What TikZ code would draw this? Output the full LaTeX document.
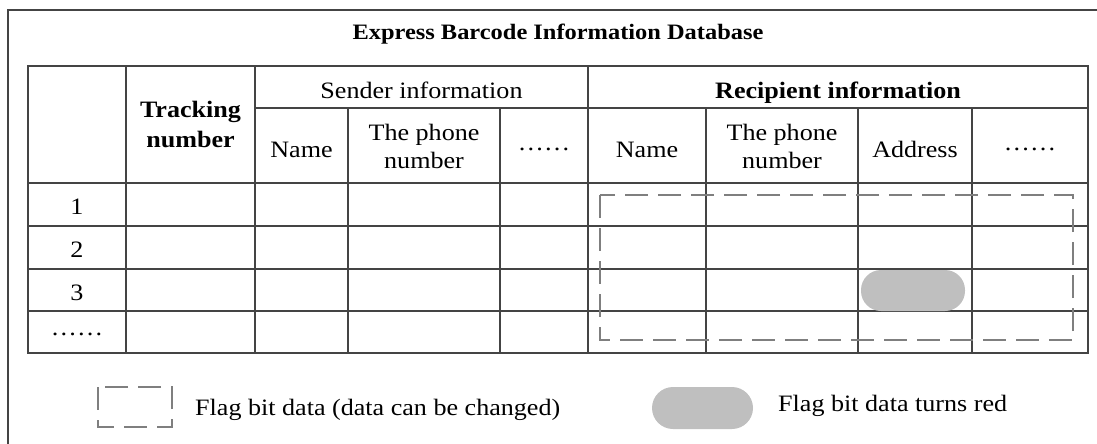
\documentclass[tikz,border=0pt]{standalone}
\usepackage{fontspec}
\setmainfont{Liberation Serif}
\usepackage{graphicx}
\newcommand{\sx}[1]{\scalebox{1.11}[1]{#1}}
\definecolor{gridc}{HTML}{444444}
\definecolor{dashc}{HTML}{7F7F7F}
\definecolor{pillc}{HTML}{BFBFBF}
\begin{document}
\begin{tikzpicture}[x=1pt,y=-1pt,
  frame/.style={draw=gridc, line width=2pt},
  grid/.style={draw=gridc, line width=2pt},
  flag/.style={draw=dashc, line width=2.8pt, dash pattern=on 23pt off 10pt},
  pill/.style={fill=pillc, draw=none, rounded corners=20pt},
  txt/.style={inner sep=0pt, align=center, font=\fontsize{23.5}{28}\selectfont},
  btxt/.style={inner sep=0pt, align=center, font=\fontsize{23.5}{30}\selectfont\bfseries},
  ttxt/.style={inner sep=0pt, align=center, font=\fontsize{22}{26}\selectfont\bfseries}]
\useasboundingbox (0,0) rectangle (1097,444);
% outer frame (cut by the picture edges)
\draw[frame] (8,460) -- (8,10) -- (1110,10);
% table
\draw[grid] (28,66) rectangle (1088,353);
\foreach \y in {183,226,269,311} \draw[grid] (28,\y) -- (1088,\y);
\draw[grid] (255,108) -- (1088,108);
\foreach \x in {126,255,588} \draw[grid] (\x,66) -- (\x,353);
\foreach \x in {348,500,706,858,972} \draw[grid] (\x,108) -- (\x,353);
% marked cell and flagged region
\fill[pill] (861,270) rectangle (965,311);
\draw[flag] (600,195) rectangle (1073,340);
% texts
\node[ttxt, anchor=base] (title) at (558,40) {\sx{Express Barcode Information Database}};
\node[btxt] (track) at (190.5,124.5) {\sx{Tracking}\\\sx{number}};
\node[txt, anchor=base] (sender) at (421.5,98) {\sx{Sender information}};
\node[btxt, anchor=base] (recip) at (838,98) {\sx{Recipient information}};
\node[txt, anchor=base] (sname) at (301.5,157) {\sx{Name}};
\node[txt] (sphone) at (424,146) {\sx{The phone}\\\sx{number}};
\node[txt, anchor=base] (sdots) at (544,150) {\sx{……}};
\node[txt, anchor=base] (rname) at (647,157) {\sx{Name}};
\node[txt] (rphone) at (782,146) {\sx{The phone}\\\sx{number}};
\node[txt, anchor=base] (raddr) at (915,157) {\sx{Address}};
\node[txt, anchor=base] (rdots) at (1030,150) {\sx{……}};
\node[txt, anchor=base] (r1) at (77,214.5) {\sx{1}};
\node[txt, anchor=base] (r2) at (77,257.5) {\sx{2}};
\node[txt, anchor=base] (r3) at (77,300) {\sx{3}};
\node[txt, anchor=base] (r4) at (77,335) {\sx{……}};
% legend
\draw[flag, line width=2.6pt] (98,387) rectangle (172,427);
\node[txt, anchor=base west] (leg1) at (195,415) {\sx{Flag bit data (data can be changed)}};
\fill[pill, rounded corners=21pt] (652,387) rectangle (753,429);
\node[txt, anchor=base west] (leg2) at (778,411) {\sx{Flag bit data turns red}};
\end{tikzpicture}
\end{document}
